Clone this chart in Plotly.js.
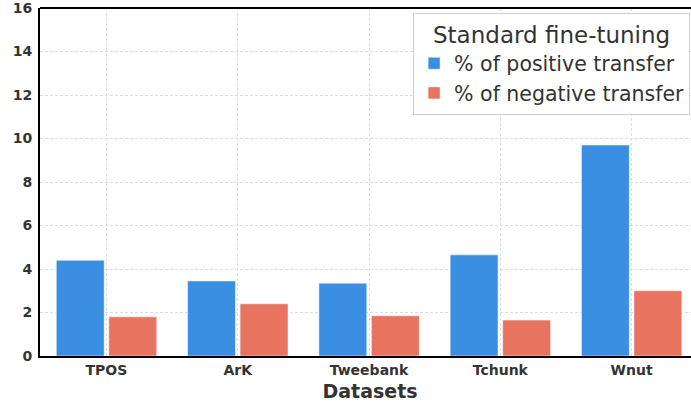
<!DOCTYPE html>
<html><head><meta charset="utf-8">
<script src="https://cdn.plot.ly/plotly-3.0.1.min.js"></script>
<style>html,body{margin:0;padding:0;background:#fff;overflow:hidden;width:691px;height:403px}</style>
</head><body>
<div id="chart" style="width:720px;height:403px"></div>
<script>
const categories = ["TPOS", "ArK", "Tweebank", "Tchunk", "Wnut"];
const positiveTransfer = [4.4, 3.45, 3.35, 4.65, 9.7];
const negativeTransfer = [1.8, 2.4, 1.85, 1.65, 3.0];
const yTicks = [0, 2, 4, 6, 8, 10, 12, 14, 16];

const F = "DejaVu Sans, sans-serif";
const traces = [
  {type: "bar", name: "% of positive transfer", x: categories, y: positiveTransfer,
   width: 0.365, offset: -0.382,
   marker: {color: "#3b8fe2", line: {color: "rgba(255,255,255,0.5)", width: 1}}},
  {type: "bar", name: "% of negative transfer", x: categories, y: negativeTransfer,
   width: 0.365, offset: 0.018,
   marker: {color: "#e8735f", line: {color: "rgba(255,255,255,0.5)", width: 1}}}
];
const layout = {
  width: 720, height: 403,
  margin: {l: 40, r: 20, t: 8, b: 47},
  paper_bgcolor: "#fff", plot_bgcolor: "#fff",
  font: {family: F, color: "#333"},
  showlegend: true,
  xaxis: {
    type: "category", range: [-0.506, 4.521],
    showgrid: true, gridcolor: "#dcdcdc", griddash: "3px,2px", gridwidth: 1,
    showline: true, linecolor: "#000", linewidth: 2,
    ticks: "", tickfont: {family: F, size: 14, weight: "bold", color: "#333"},
    title: {text: "Datasets", font: {family: F, size: 19, weight: "bold", color: "#333"}, standoff: 8},
    zeroline: false
  },
  yaxis: {
    range: [0, 16], tickvals: yTicks, ticktext: yTicks.map(String),
    showgrid: true, gridcolor: "#dcdcdc", griddash: "3px,2px", gridwidth: 1,
    showline: true, linecolor: "#000", linewidth: 2,
    ticks: "", ticklabelstandoff: 3, ticklabeloverflow: "allow",
    tickfont: {family: F, size: 14, weight: "bold", color: "#333"},
    zeroline: false
  },
  shapes: [
    {type: "line", xref: "paper", yref: "paper", x0: 0, x1: 1, y0: 1, y1: 1,
     line: {color: "#000", width: 2}}
  ],
  legend: {
    x: 0.985, xanchor: "right", y: 0.987, yanchor: "top",
    bgcolor: "rgba(255,255,255,0.9)", bordercolor: "#d0d0d0", borderwidth: 1,
    font: {family: F, size: 20.5, color: "#333"},
    title: {text: "Standard fine-tuning", side: "top center", font: {family: F, size: 23, color: "#333"}},
    tracegroupgap: 0, itemwidth: 30
  }
};
Plotly.newPlot("chart", traces, layout, {displayModeBar: false, staticPlot: true});
</script>
</body></html>
